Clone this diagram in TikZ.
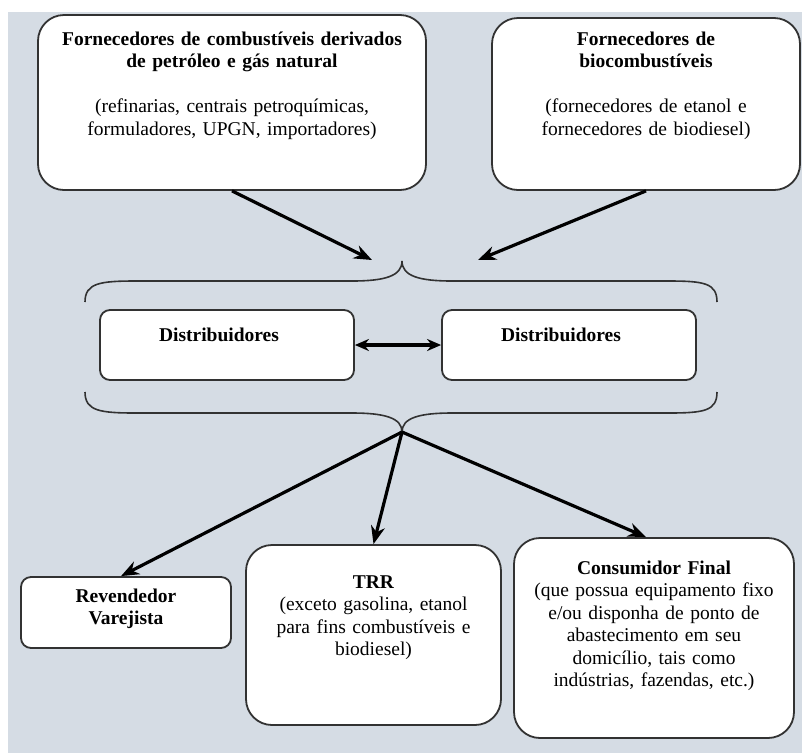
\documentclass[tikz,border=0pt]{standalone}
\usepackage{fontspec}
\setmainfont{Liberation Serif}
\usetikzlibrary{arrows.meta}
\definecolor{bggray}{RGB}{213,220,228}
\definecolor{linegray}{RGB}{50,50,50}
\begin{document}
\begin{tikzpicture}[x=1pt,y=-1pt,
        box/.style={draw=linegray,line width=1.8pt,fill=white,inner sep=0pt,
            align=center,font=\fontsize{19.5}{22.5}\selectfont},
        bigbox/.style={box,rounded corners=26pt},
        smallbox/.style={box,rounded corners=10pt},
        arr/.style={line width=3.2pt,-{Stealth[length=18pt,width=14pt]}},
        darr/.style={line width=3.2pt,{Stealth[length=14pt,width=12pt]}-{Stealth[length=14pt,width=12pt]}},
        brace/.style={draw=linegray,line width=1.6pt}]
        \useasboundingbox (0,0) rectangle (802,753);
        \fill[white] (0,0) rectangle (802,753);
        \fill[bggray] (8,12) rectangle (802,753);

        % braces
        \coordinate (a) at (402,261);
        \coordinate (b) at (402,432);
        \draw[brace] (85,302) .. controls (85,283) and (100,281) .. (136,281) -- (352,281)
            .. controls (385,281) and (402,276) .. (a)
            .. controls (402,276) and (419,281) .. (452,281) -- (668,281)
            .. controls (704,281) and (717,283) .. (717,302);
        \draw[brace] (85,392) .. controls (85,411) and (100,413) .. (136,413) -- (352,413)
            .. controls (385,413) and (402,418) .. (b)
            .. controls (402,418) and (419,413) .. (452,413) -- (668,413)
            .. controls (704,413) and (717,411) .. (717,392);

        % suppliers
        \node[bigbox,minimum width=388pt,text width=380pt,text height=30pt,text depth=145pt] (1) at (232,102.5)
            {\textbf{Fornecedores de combustíveis derivados}\\\textbf{de petróleo e gás natural}\\[22.5pt]
            (refinarias, centrais petroquímicas,\\formuladores, UPGN, importadores)};
        \node[bigbox,minimum width=308pt,text width=290pt,text height=27pt,text depth=145pt] (2) at (646,104)
            {\textbf{Fornecedores de}\\\textbf{biocombustíveis}\\[22.5pt]
            (fornecedores de etanol e\\fornecedores de biodiesel)};

        % distributors
        \node[smallbox,minimum width=254pt,text width=240pt,text height=31pt,text depth=39pt] (3) at (227,345)
            {\hspace*{-16pt}\textbf{Distribuidores}};
        \node[smallbox,minimum width=254pt,text width=240pt,text height=31pt,text depth=39pt] (4) at (569,345)
            {\hspace*{-16pt}\textbf{Distribuidores}};

        % customers
        \node[smallbox,minimum width=210pt,text width=200pt,text height=25pt,text depth=46pt] (5) at (126,612.5)
            {\textbf{Revendedor}\\\textbf{Varejista}};
        \node[bigbox,minimum width=255pt,text width=245pt,text height=43pt,text depth=137pt] (6) at (373.5,635)
            {\textbf{TRR}\\(exceto gasolina, etanol\\para fins combustíveis e\\biodiesel)};
        \node[bigbox,minimum width=280pt,text width=270pt,text height=36pt,text depth=164pt] (7) at (654,638)
            {\textbf{Consumidor Final}\\(que possua equipamento fixo\\e/ou disponha de ponto de\\abastecimento em seu\\domicílio, tais como\\indústrias, fazendas, etc.)};

        \coordinate (c) at (372,260);
        \coordinate (d) at (478,260);
        \path [arr] (1.south) edge (c); \path [arr] (2.south) edge (d);
        \path [darr] (3) edge (4);
        \path [arr] (b) edge ([xshift=-5pt]5.north); \path [arr] (b) edge (6.north);
        \path [arr] (b) edge ([xshift=-8pt]7.north);
    \end{tikzpicture}
\end{document}
